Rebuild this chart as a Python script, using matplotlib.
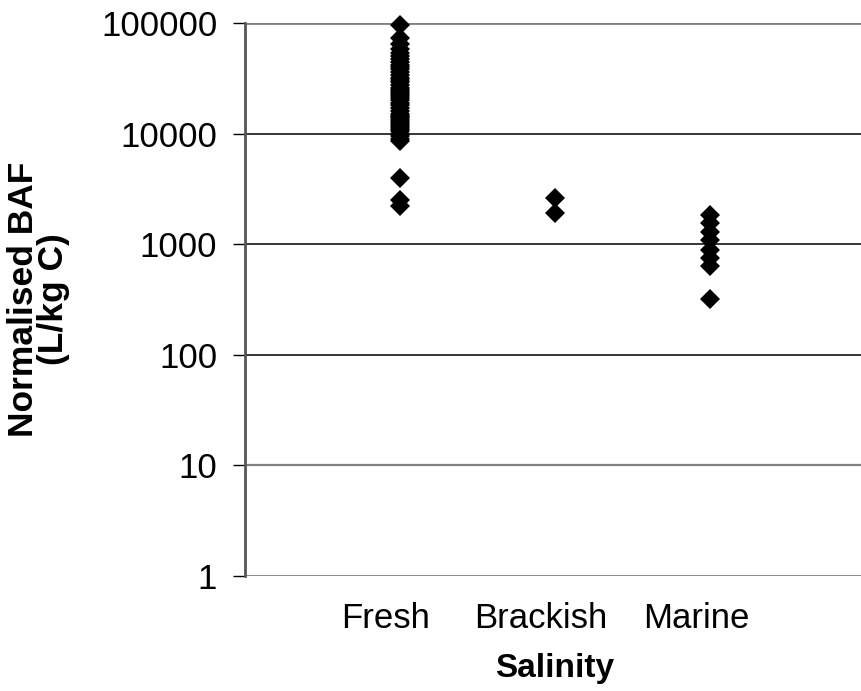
import matplotlib
matplotlib.use("Agg")
import matplotlib.pyplot as plt
import matplotlib.transforms as mtransforms
from matplotlib.ticker import FixedLocator, FixedFormatter, NullLocator

# ---- data ----
categories = ["Fresh", "Brackish", "Marine"]
cat_x = [1, 2, 3]
fresh = [95000, 73000, 64000, 58000, 54000, 50000, 47000, 44000, 42000, 40000,
         38000, 36000, 34000, 32000, 30500, 29000, 27500, 26000, 25000, 24000,
         23000, 22000, 21000, 20000, 19000, 18000, 17000, 16000, 15000, 14500,
         14000, 13500, 13000, 12500, 12000, 11500, 11000, 10500, 10000, 9500,
         9000, 8600, 4000, 2500, 2200]
brackish = [2600, 1930]
marine = [1850, 1550, 1300, 1090, 890, 750, 630, 320]
yticks = [1, 10, 100, 1000, 10000, 100000]
ytick_labels = ["1", "10", "100", "1000", "10000", "100000"]

plt.rcParams['font.family'] = ['Liberation Sans', 'DejaVu Sans']

fig = plt.figure(figsize=(8.62, 6.91), dpi=100)
ax = fig.add_axes([245/862, 1-576/691, 620/862, (576-23)/691])

ax.set_yscale('log')
ax.set_ylim(1, 100000)
ax.set_xlim(0, 4)

# gridlines
grid_colors = ['#808080', '#808080', 'black', 'black', 'black', '#808080']
grid_lw = [2.0, 1.6, 1.1, 1.1, 1.1, 2.0]
for v, c, lw in zip(yticks, grid_colors, grid_lw):
    ax.axhline(v, color=c, lw=lw, zorder=1)

groups = [fresh, brackish, marine]
for xv, vals in zip(cat_x, groups):
    ax.plot([xv]*len(vals), vals, linestyle='none', marker='D', markersize=10,
            color='black', markeredgewidth=0, zorder=3, clip_on=False)

for s in ['top', 'right', 'bottom']:
    ax.spines[s].set_visible(False)
ax.spines['left'].set_color('#555555')
ax.spines['left'].set_linewidth(2)

ax.yaxis.set_major_locator(FixedLocator(yticks))
ax.yaxis.set_major_formatter(FixedFormatter(ytick_labels))
ax.yaxis.set_minor_locator(NullLocator())
ax.tick_params(axis='y', which='major', direction='out', length=9, width=1,
               color='black', labelsize=25, pad=11)

ax.set_xticks(cat_x)
ax.set_xticklabels(categories)
ax.tick_params(axis='x', length=0, labelsize=25, pad=19)
offset = mtransforms.ScaledTranslation(-14/100, 0, fig.dpi_scale_trans)
for lab in ax.get_xticklabels():
    lab.set_transform(lab.get_transform() + offset)

ax.set_xlabel("Salinity", fontsize=24, fontweight='bold', labelpad=13)
ax.set_ylabel("Normalised BAF\n(L/kg C)", fontsize=25.5, fontweight='bold',
              linespacing=0.9)
ax.yaxis.set_label_coords((70-245)/620, 0.5)

fig.savefig("out.png", dpi=100)
